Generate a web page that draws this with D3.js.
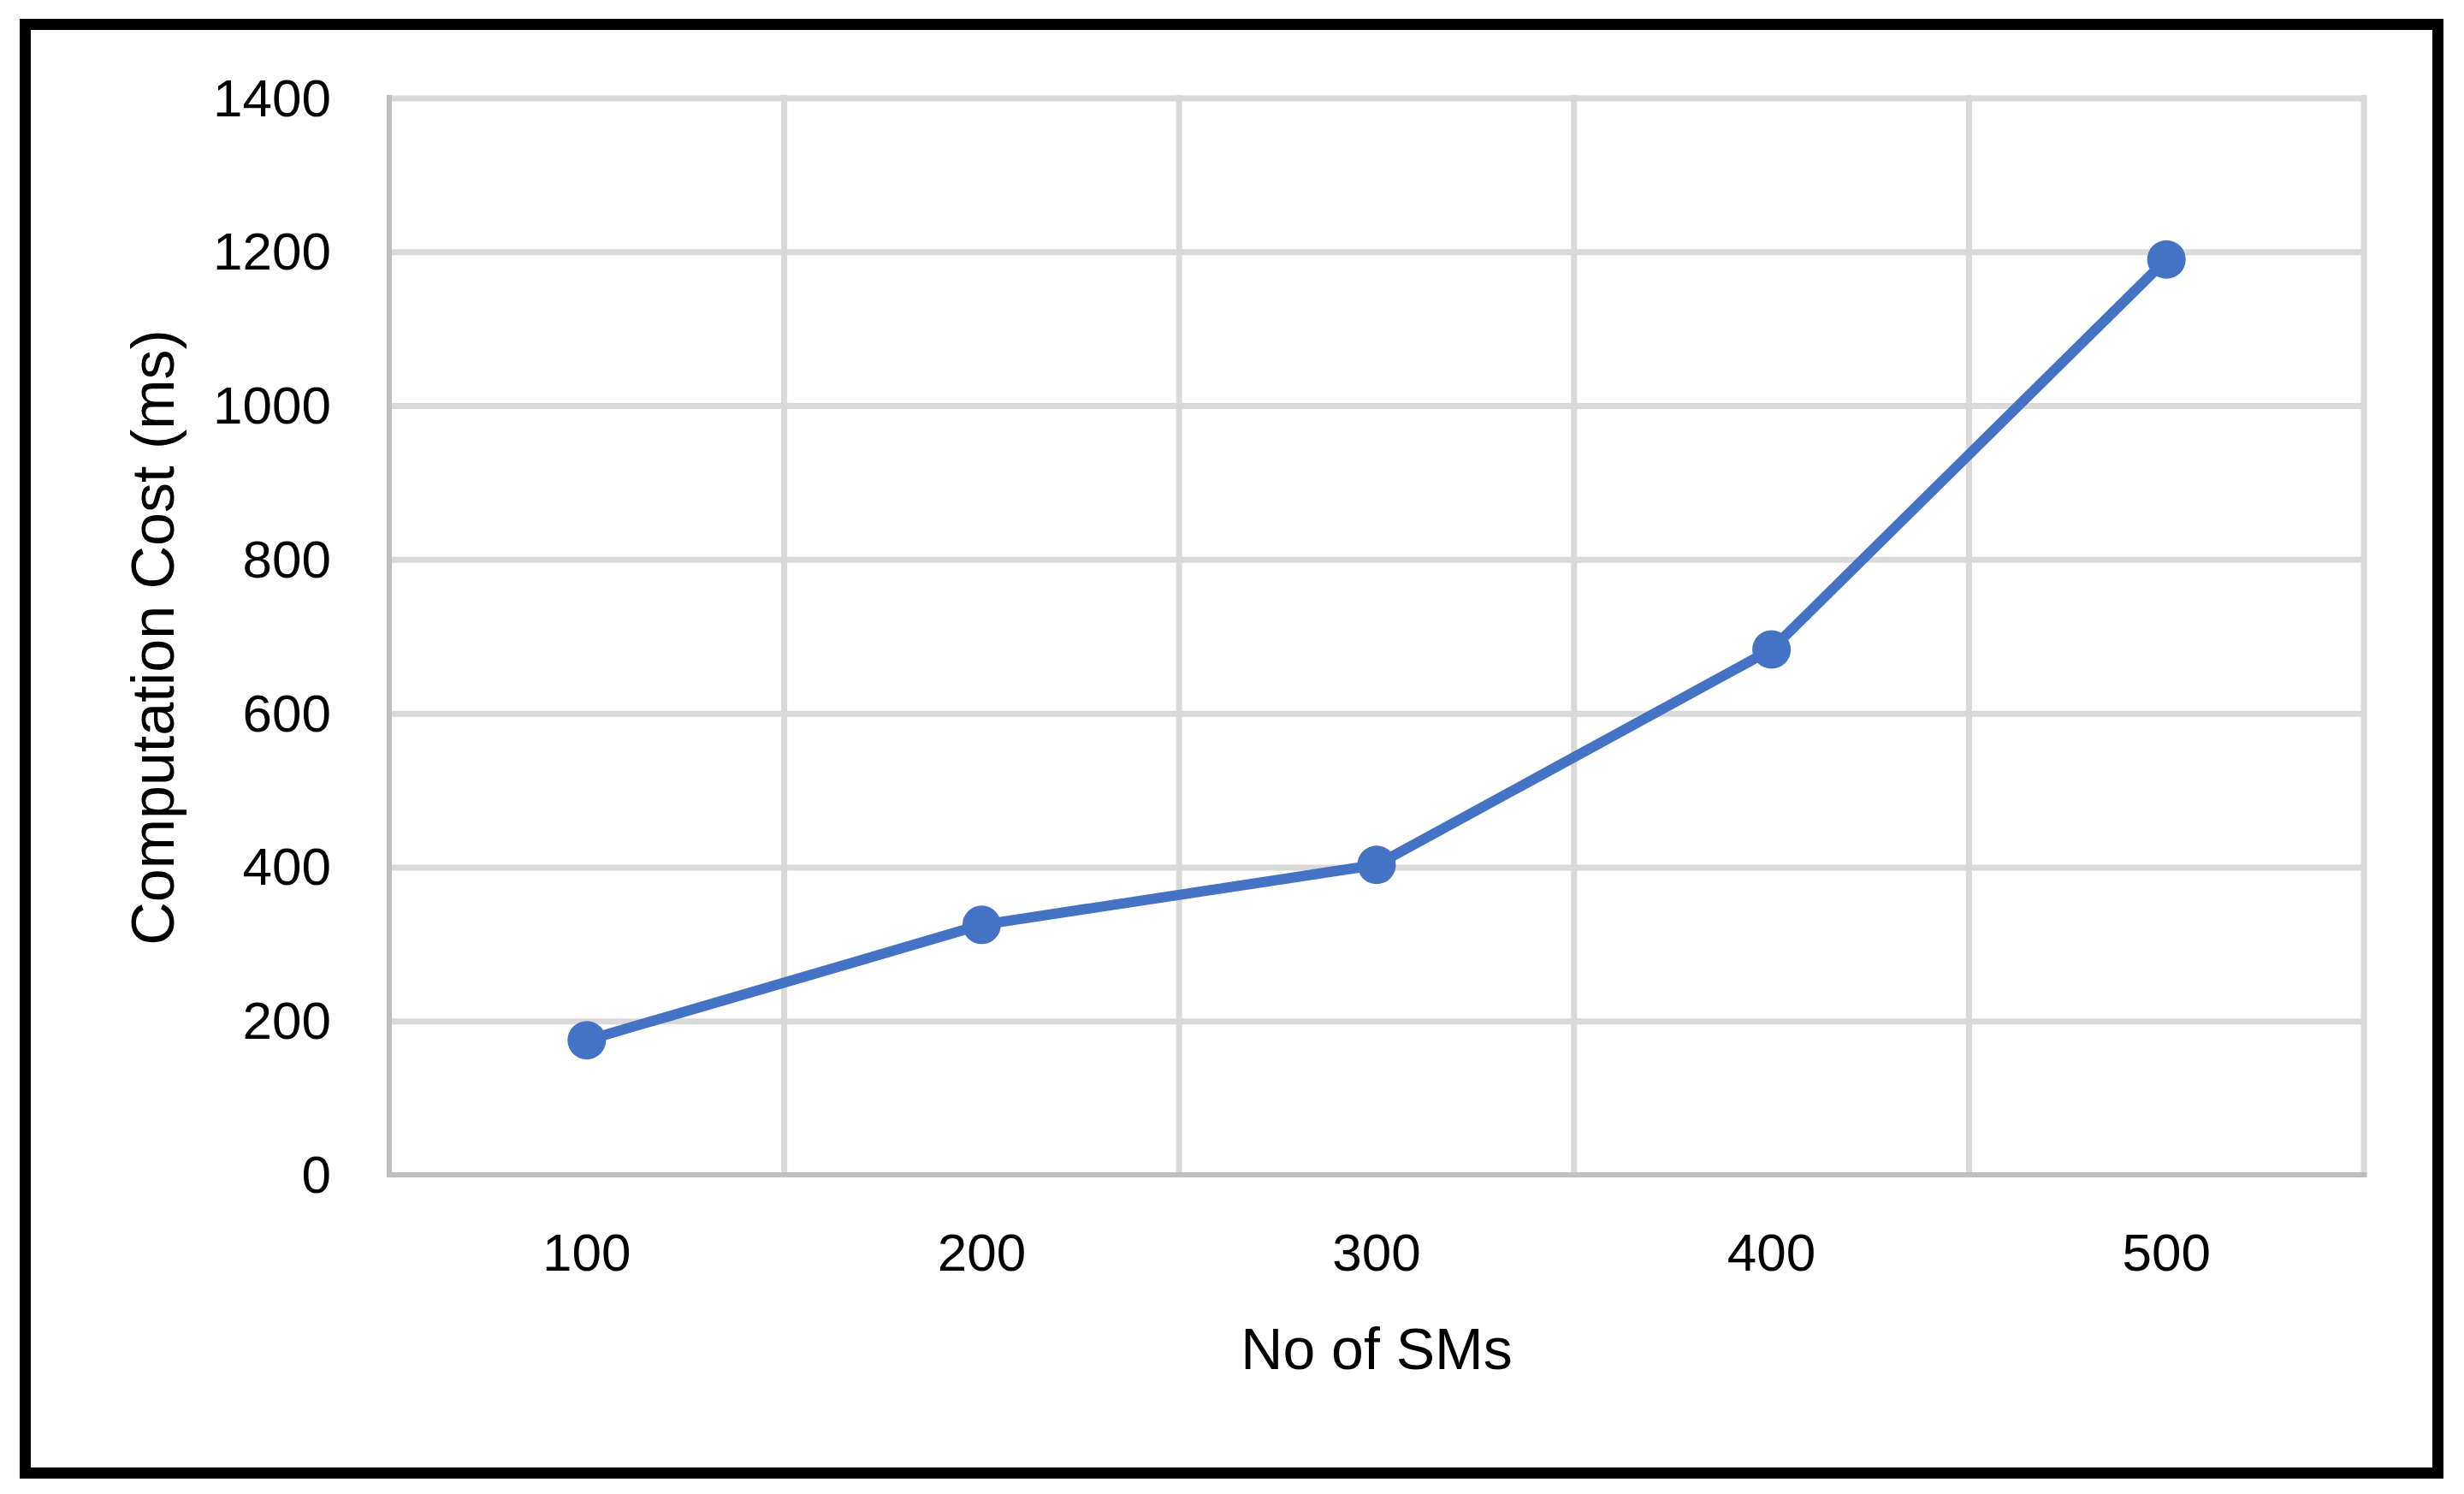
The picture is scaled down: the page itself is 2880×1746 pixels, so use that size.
<!DOCTYPE html>
<html>
<head>
<meta charset="utf-8">
<script src="https://cdn.jsdelivr.net/npm/d3@7"></script>
<style>
  html, body { margin: 0; padding: 0; background: #fff; }
  svg { display: block; }
  text { font-family: "Liberation Sans", Arial, sans-serif; fill: #000; }
</style>
</head>
<body>
<script>
const categories = ["100", "200", "300", "400", "500"];
const costValues = [175, 325, 403, 683, 1190];
const yTicks = [0, 200, 400, 600, 800, 1000, 1200, 1400];
const xTitle = "No of SMs";
const yTitle = "Computation Cost (ms)";

const W = 2880, H = 1746;
const plot = { left: 455, right: 2763, top: 114.5, bottom: 1373 };

const svg = d3.select("body").append("svg").attr("width", W).attr("height", H);
svg.append("rect").attr("x", 0).attr("y", 0).attr("width", W).attr("height", H).attr("fill", "#fff");

// outer frame
svg.append("rect")
  .attr("x", 29.5).attr("y", 28.5)
  .attr("width", 2849.5 - 29.5).attr("height", 1721.5 - 28.5)
  .attr("fill", "none").attr("stroke", "#000").attr("stroke-width", 13);

const x = d3.scaleBand().domain(categories).range([plot.left, plot.right]).paddingInner(0).paddingOuter(0);
const y = d3.scaleLinear().domain([0, 1400]).range([plot.bottom, plot.top]);

// horizontal gridlines
const yAxisGrid = d3.axisLeft(y).tickValues(yTicks.filter(v => v > 0)).tickSize(-(plot.right - plot.left)).tickFormat("");
const gGrid = svg.append("g").attr("transform", `translate(${plot.left},0)`).call(yAxisGrid);
gGrid.select(".domain").remove();
gGrid.selectAll(".tick line").attr("stroke", "#d9d9d9").attr("stroke-width", 7);

// vertical gridlines at category boundaries
const boundaries = categories.map(c => x(c) + x.bandwidth()).filter((v, i) => true);
svg.append("g").selectAll("line").data(boundaries).join("line")
  .attr("x1", d => d).attr("x2", d => d)
  .attr("y1", plot.top - 3.5).attr("y2", plot.bottom)
  .attr("stroke", "#d9d9d9").attr("stroke-width", 7);

// left axis line & bottom axis line
svg.append("line").attr("x1", plot.left).attr("x2", plot.left)
  .attr("y1", plot.top - 3.5).attr("y2", plot.bottom + 3)
  .attr("stroke", "#bfbfbf").attr("stroke-width", 6);
svg.append("line").attr("x1", plot.left).attr("x2", plot.right + 3.5)
  .attr("y1", plot.bottom).attr("y2", plot.bottom)
  .attr("stroke", "#bfbfbf").attr("stroke-width", 6);

// y tick labels
svg.append("g").selectAll("text").data(yTicks).join("text")
  .attr("x", 387).attr("y", d => y(d) + 21)
  .attr("text-anchor", "end").attr("font-size", 62)
  .text(d => d);

// x tick labels
svg.append("g").selectAll("text").data(categories).join("text")
  .attr("x", d => x(d) + x.bandwidth() / 2).attr("y", 1485)
  .attr("text-anchor", "middle").attr("font-size", 62)
  .text(d => d);

// axis titles
svg.append("text").attr("x", (plot.left + plot.right) / 2).attr("y", 1600)
  .attr("text-anchor", "middle").attr("font-size", 68).text(xTitle);
svg.append("text").attr("transform", `translate(203,745) rotate(-90)`)
  .attr("text-anchor", "middle").attr("font-size", 70).text(yTitle);

// line
const pts = categories.map((c, i) => [x(c) + x.bandwidth() / 2, y(costValues[i])]);
svg.append("path").datum(pts)
  .attr("d", d3.line())
  .attr("fill", "none").attr("stroke", "#4472c4").attr("stroke-width", 12)
  .attr("stroke-linejoin", "round");

svg.append("g").selectAll("circle").data(pts).join("circle")
  .attr("cx", d => d[0]).attr("cy", d => d[1]).attr("r", 22.5)
  .attr("fill", "#4472c4");
</script>
</body>
</html>
